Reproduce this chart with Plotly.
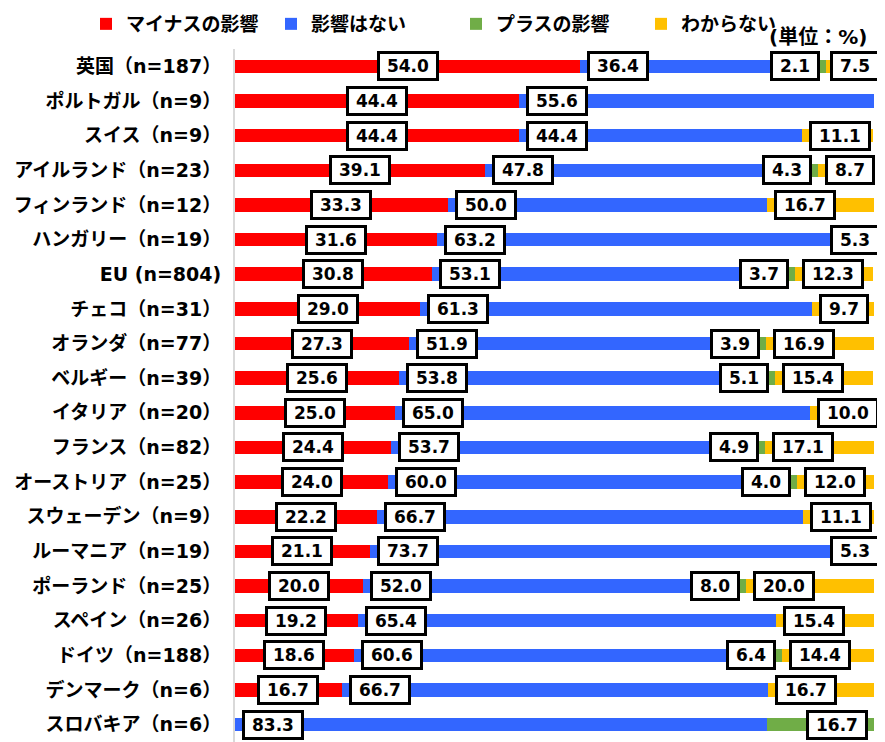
import plotly.graph_objects as go

categories = ["英国（n=187）", "ポルトガル（n=9）", "スイス（n=9）", "アイルランド（n=23）",
              "フィンランド（n=12）", "ハンガリー（n=19）", "EU (n=804)", "チェコ（n=31）",
              "オランダ（n=77）", "ベルギー（n=39）", "イタリア（n=20）", "フランス（n=82）",
              "オーストリア（n=25）", "スウェーデン（n=9）", "ルーマニア（n=19）", "ポーランド（n=25）",
              "スペイン（n=26）", "ドイツ（n=188）", "デンマーク（n=6）", "スロバキア（n=6）"]
negative = [54.0, 44.4, 44.4, 39.1, 33.3, 31.6, 30.8, 29.0, 27.3, 25.6,
            25.0, 24.4, 24.0, 22.2, 21.1, 20.0, 19.2, 18.6, 16.7, 0.0]
no_effect = [36.4, 55.6, 44.4, 47.8, 50.0, 63.2, 53.1, 61.3, 51.9, 53.8,
             65.0, 53.7, 60.0, 66.7, 73.7, 52.0, 65.4, 60.6, 66.7, 83.3]
positive = [2.1, 0.0, 0.0, 4.3, 0.0, 0.0, 3.7, 0.0, 3.9, 5.1,
            0.0, 4.9, 4.0, 0.0, 0.0, 8.0, 0.0, 6.4, 0.0, 16.7]
unknown = [7.5, 0.0, 11.1, 8.7, 16.7, 5.3, 12.3, 9.7, 16.9, 15.4,
           10.0, 17.1, 12.0, 11.1, 5.3, 20.0, 15.4, 14.4, 16.7, 0.0]
series_names = ["マイナスの影響", "影響はない", "プラスの影響", "わからない"]
unit_label = "(単位：%)"

colors = ["#FF0000", "#3366FF", "#70AD47", "#FFC000"]
series = [negative, no_effect, positive, unknown]

# page body has an 8px margin: the figure is drawn 8px right/down in the window
OFF = 8
W, H = 885 - OFF, 742 - OFF
ML, MR, MT, MB = 235 - OFF, 11, 49 - OFF, 0
PW, PH = W - ML - MR, H - MT - MB
PX = PW / 100.0  # pixels per percent


def px_x(xv):
    """window x pixel -> paper x"""
    return (xv - OFF - ML) / PW


def px_y(yv):
    """window y pixel -> paper y"""
    return 1 - (yv - OFF - MT) / PH


CJK = "Noto Sans CJK JP"
NUM = "DejaVu Sans, Noto Sans CJK JP"

fig = go.Figure()
for name, vals, col in zip(series_names, series, colors):
    fig.add_trace(go.Bar(
        y=categories, x=vals, name=name, orientation="h",
        marker=dict(color=col, line=dict(width=0)),
        hoverinfo="x+y+name",
    ))

def text_w(s):
    w = 0.0
    for ch in s:
        w += 6.5 if ch == "." else 11.8
    return w

annotations = []
LBL_FONT = dict(family=NUM, size=17, color="black", weight="bold")
for i, cat in enumerate(categories):
    n, b, p, u = negative[i], no_effect[i], positive[i], unknown[i]
    s1 = n
    s3 = n + b + p

    def box(x, val, xanchor, xshift):
        t = f"{val:.1f}"
        annotations.append(dict(
            x=x, y=cat, xref="x", yref="y", text=t, showarrow=False,
            xanchor=xanchor, yanchor="middle", xshift=xshift,
            font=LBL_FONT, bgcolor="white", bordercolor="black",
            borderwidth=3, borderpad=1, width=text_w(t) + 12, height=22,
        ))
    if n > 0:
        box(n / 2.0, n, "center", 0)
    if b > 0:
        box(s1, b, "left", 7)
    if p > 0:
        box(s3, p, "right", -6)
    if u > 0:
        t = f"{u:.1f}"
        bw = text_w(t) + 12 + 2 + 6
        if s3 * PX + 7 + bw > 100 * PX + 6:
            box(100, u, "right", 6)
        else:
            box(s3, u, "left", 7)

annotations.append(dict(
    x=px_x(869), y=px_y(37),
    xref="paper", yref="paper", text=unit_label, showarrow=False,
    xanchor="right", yanchor="middle",
    font=dict(family=NUM, size=20, color="black", weight="bold"),
))

fig.update_layout(
    width=W, height=H,
    margin=dict(l=ML, r=MR, t=MT, b=MB, pad=0, autoexpand=False),
    barmode="stack", bargap=0.61,
    plot_bgcolor="white", paper_bgcolor="white",
    showlegend=True,
    legend=dict(
        orientation="h", xref="paper", yref="paper",
        x=px_x(86), xanchor="left",
        y=px_y(24), yanchor="middle",
        entrywidth=140, entrywidthmode="pixels",
        font=dict(family=CJK, size=19, color="black", weight="bold"),
        traceorder="normal", bgcolor="rgba(0,0,0,0)",
    ),
    xaxis=dict(range=[0, 100], visible=False, fixedrange=True),
    yaxis=dict(
        autorange=False, range=[19.5, -0.5], type="category",
        showline=True, linecolor="#D9D9D9", linewidth=2,
        ticks="outside", ticklen=8, tickcolor="rgba(0,0,0,0)",
        tickfont=dict(family=NUM, size=19, color="black", weight="bold"),
        showgrid=False, zeroline=False,
    ),
    annotations=annotations,
)

fig.write_html("out.html")
